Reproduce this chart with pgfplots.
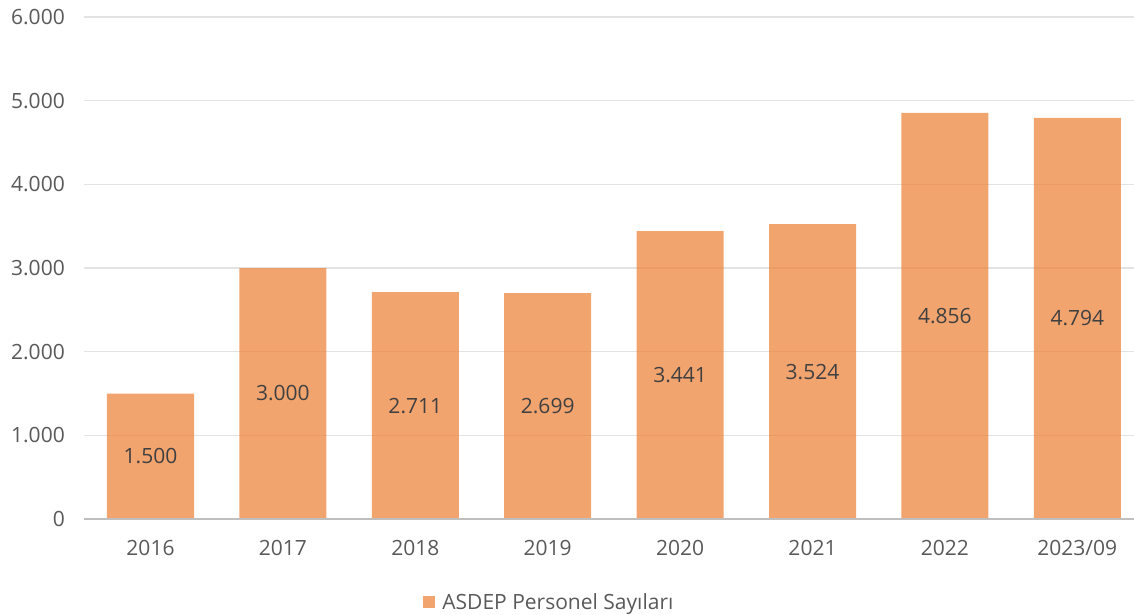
\documentclass[border=0pt]{standalone}
\usepackage{pgfplots}
\usepackage{pgfplotstable}
\pgfplotsset{compat=1.18}
\usepackage{fontspec}
\setmainfont{Open Sans}
\definecolor{barc}{HTML}{ED7D31}
\definecolor{gridc}{HTML}{E3E3E3}
\definecolor{axc}{HTML}{BFBFBF}
\definecolor{tickc}{HTML}{595959}
\definecolor{lblc}{HTML}{404040}
\pgfplotstableread{
x v
0 1500
1 3000
2 2711
3 2699
4 3441
5 3524
6 4856
7 4794
}\data
\begin{document}
\begin{tikzpicture}
\begin{axis}[
  x=132.4pt, y=0.08367pt,
  scale only axis,
  xmin=-0.5, xmax=7.43, ymin=0, ymax=6000,
  axis line style={draw=none},
  tick style={draw=none},
  ymajorgrids, grid style={gridc, line width=1.2pt},
  ytick={0,1000,...,6000},
  xtick={0,...,7},
  xticklabels={2016,2017,2018,2019,2020,2021,2022,2023/09},
  ticklabel style={font=\fontsize{21}{25}\selectfont, text=tickc},
  /pgf/number format/.cd, assume math mode=true, fixed, precision=0, 1000 sep={.},
  /pgfplots/.cd,
  yticklabel style={xshift=-16pt},
  xticklabel style={yshift=-18pt},
  legend style={draw=none, at={(0.443,-0.165)}, anchor=center, font=\fontsize{21}{25}\selectfont, text=tickc, fill=none},
  legend image code/.code={\fill[barc, fill opacity=0.7] (0pt,-6pt) rectangle (12pt,6pt);},
  clip=false,
]
\addplot[ybar, bar width=87pt, fill=barc, fill opacity=0.7, draw=none] table[x=x, y=v] {\data};
\addlegendentry{\hspace{5pt}ASDEP Personel Sayıları}
\addplot[draw=none, forget plot, point meta={\thisrow{v}},
  nodes near coords={\pgfmathprintnumber[fixed,precision=0,1000 sep={.}]{\pgfplotspointmeta}},
  nodes near coords style={anchor=center, font=\fontsize{21}{25}\selectfont, text=lblc}]
  table[x=x, y expr=\thisrow{v}/2] {\data};
\draw[axc, line width=1.5pt] (rel axis cs:0,0) -- (rel axis cs:1,0);
\coordinate (o) at (rel axis cs:0,0);
\end{axis}
\pgfresetboundingbox
\path (o) ++(-84.3pt,-95pt) rectangle ++(1134pt,614pt);
\end{tikzpicture}
\end{document}
